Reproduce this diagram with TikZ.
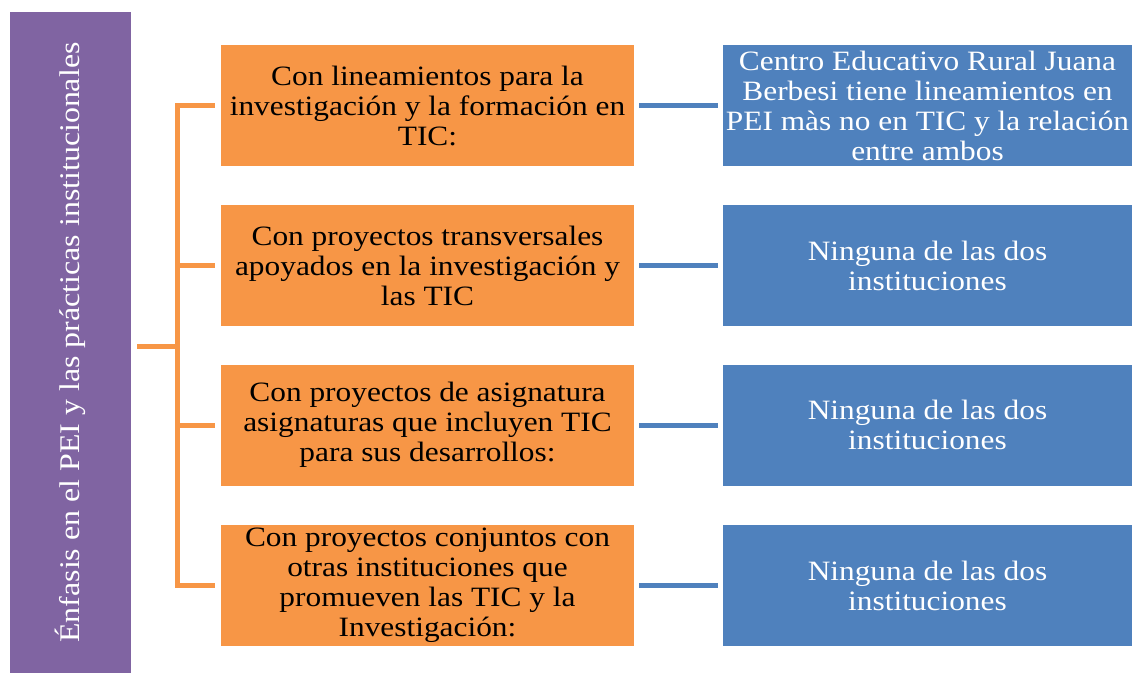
\documentclass[tikz,border=0pt]{standalone}
\usepackage{fontspec}
\setmainfont[FakeStretch=1.12]{Liberation Serif}
\definecolor{pur}{HTML}{8064A2}
\definecolor{ora}{HTML}{F79646}
\definecolor{blu}{HTML}{4F81BD}
\begin{document}
\begin{tikzpicture}[x=1pt,y=-1pt,
  obox/.style={fill=ora, draw=none, minimum width=413pt, minimum height=121pt, inner sep=0pt,
    align=center, text=black, font=\fontsize{28}{30}\selectfont},
  bbox/.style={fill=blu, draw=none, minimum width=409pt, minimum height=121pt, inner sep=0pt,
    align=center, text=white, font=\fontsize{28}{30}\selectfont},
  oline/.style={draw=ora, line width=5pt, line join=miter},
  bline/.style={draw=blu, line width=5pt, shorten <=5pt, shorten >=5pt}]
\useasboundingbox (0,0) rectangle (1132,673);
\node[fill=pur, minimum width=121pt, minimum height=661pt, inner sep=0pt,
  label={[rotate=90, text=white, font=\fontsize{28.5}{30}\selectfont]center:Énfasis en el PEI y las prácticas institucionales}]
  (purple) at (70.5,342.5) {};
\node[obox] (o1) at (427.5,105.5) {Con lineamientos para la\\investigación y la formación en\\TIC:};
\node[obox] (o2) at (427.5,265.5) {Con proyectos transversales\\apoyados en la investigación y\\las TIC};
\node[obox] (o3) at (427.5,425) {Con proyectos de asignatura\\asignaturas que incluyen TIC\\para sus desarrollos:};
\node[obox] (o4) at (427.5,585.5) {Con proyectos conjuntos con\\otras instituciones que\\promueven las TIC y la\\Investigación:};
\node[bbox] (b1) at (927.5,105.5) {Centro Educativo Rural Juana\\Berbesi tiene lineamientos en\\PEI màs no en TIC y la relación\\entre ambos};
\node[bbox] (b2) at (927.5,265.5) {Ninguna de las dos\\instituciones};
\node[bbox] (b3) at (927.5,425) {Ninguna de las dos\\instituciones};
\node[bbox] (b4) at (927.5,585.5) {Ninguna de las dos\\instituciones};
\coordinate (junction) at (177,346);
\draw[oline, shorten <=6pt] (purple.east |- junction) -- (junction);
\draw[oline, shorten <=6pt, shorten >=6pt] (o1.west) -| (junction) |- (o4.west);
\draw[oline, shorten <=6pt] (o2.west) -- (o2.west -| junction);
\draw[oline, shorten <=6pt] (o3.west) -- (o3.west -| junction);
\draw[bline] (o1.east) -- (b1.west);
\draw[bline] (o2.east) -- (b2.west);
\draw[bline] (o3.east) -- (b3.west);
\draw[bline] (o4.east) -- (b4.west);
\end{tikzpicture}
\end{document}
